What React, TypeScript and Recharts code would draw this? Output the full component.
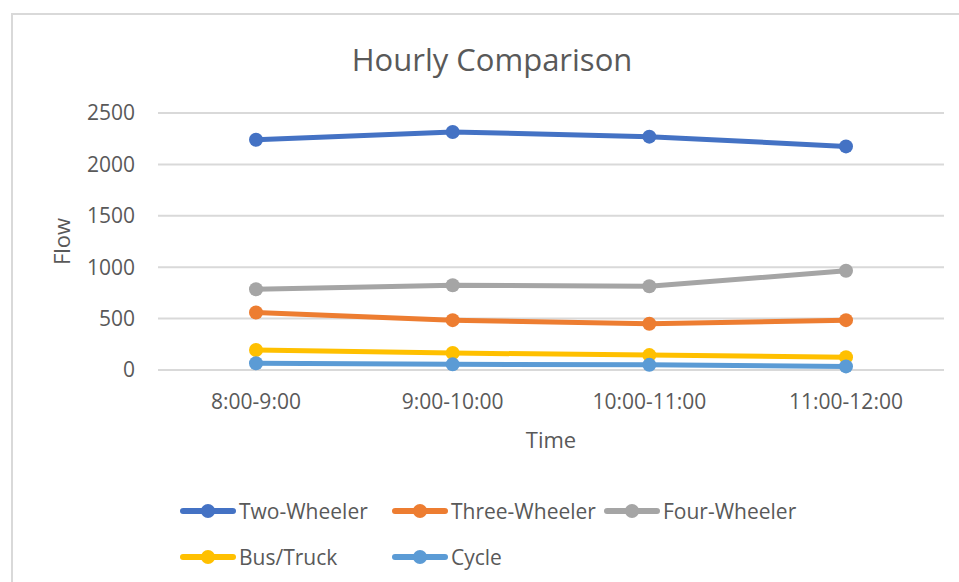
import React from "react";
import { LineChart, Line, XAxis, YAxis, CartesianGrid } from "recharts";

const TIMES = ["8:00-9:00", "9:00-10:00", "10:00-11:00", "11:00-12:00"];
const TWO_WHEELER = [2240, 2315, 2270, 2175];
const THREE_WHEELER = [560, 485, 450, 485];
const FOUR_WHEELER = [785, 825, 815, 965];
const BUS_TRUCK = [195, 165, 145, 125];
const CYCLE = [65, 55, 50, 35];
const Y_TICKS = [0, 500, 1000, 1500, 2000, 2500];

const SERIES = [
    { key: "two", name: "Two-Wheeler", values: TWO_WHEELER, color: "#4472C4" },
    { key: "three", name: "Three-Wheeler", values: THREE_WHEELER, color: "#ED7D31" },
    { key: "four", name: "Four-Wheeler", values: FOUR_WHEELER, color: "#A5A5A5" },
    { key: "bus", name: "Bus/Truck", values: BUS_TRUCK, color: "#FFC000" },
    { key: "cycle", name: "Cycle", values: CYCLE, color: "#5B9BD5" },
];

const data = TIMES.map((time, i) => {
    const row: Record<string, string | number> = { time };
    SERIES.forEach((s) => {
        row[s.key] = s.values[i];
    });
    return row;
});

const FONT = "'Open Sans', sans-serif";
const TEXT = "#595959";
const GRID = "#D9D9D9";

const App: React.FC = () => {
    return (
        <div style={{ position: "absolute", left: 0, top: 0, width: 959, height: 582, overflow: "hidden", background: "#fff", fontFamily: FONT }}>
            <div style={{ position: "absolute", left: 11, top: 13, width: 980, height: 620, border: `2px solid ${GRID}` }} />
            <div style={{ position: "absolute", left: 292, width: 400, top: 44, textAlign: "center", fontSize: 31, lineHeight: "31px", color: TEXT }}>
                Hourly Comparison
            </div>
            <div style={{ position: "absolute", left: 0, top: 0 }}>
                <LineChart width={959} height={582} data={data} margin={{ top: 113, right: 15, bottom: 132, left: 0 }}>
                    <CartesianGrid vertical={false} stroke={GRID} strokeWidth={2} />
                    <XAxis
                        dataKey="time"
                        height={80}
                        padding={{ left: 98, right: 98 }}
                        tickLine={false}
                        axisLine={false}
                        tickSize={0}
                        tickMargin={24}
                        tick={{ fill: TEXT, fontSize: 21, fontFamily: FONT }}
                        label={{ value: "Time", position: "insideBottom", offset: 2, fill: TEXT, fontSize: 22, fontFamily: FONT }}
                    />
                    <YAxis
                        width={158}
                        domain={[0, 2500]}
                        ticks={Y_TICKS}
                        tickLine={false}
                        axisLine={false}
                        tickSize={0}
                        tickMargin={23}
                        tick={{ fill: TEXT, fontSize: 21, fontFamily: FONT }}
                        label={{ value: "Flow", angle: -90, position: "insideLeft", offset: 62, fill: TEXT, fontSize: 22, fontFamily: FONT, style: { textAnchor: "middle" } }}
                    />
                    {SERIES.map((s) => (
                        <Line
                            key={s.key}
                            type="linear"
                            dataKey={s.key}
                            name={s.name}
                            stroke={s.color}
                            strokeWidth={5}
                            dot={{ r: 7, fill: s.color, stroke: s.color, strokeWidth: 0 }}
                            activeDot={false}
                            isAnimationActive={false}
                        />
                    ))}
                </LineChart>
            </div>
            <div style={{ position: "absolute", left: 180, top: 488, display: "grid", gridTemplateColumns: "212px 212px 212px", gridAutoRows: "46px" }}>
                {SERIES.map((s) => (
                    <div key={s.key} style={{ display: "flex", alignItems: "center", whiteSpace: "nowrap" }}>
                        <svg width={56} height={16} style={{ flex: "none" }}>
                            <line x1={3} y1={8} x2={53} y2={8} stroke={s.color} strokeWidth={6} strokeLinecap="round" />
                            <circle cx={28} cy={8} r={7} fill={s.color} />
                        </svg>
                        <span style={{ marginLeft: 3, fontSize: 21, color: TEXT }}>{s.name}</span>
                    </div>
                ))}
            </div>
        </div>
    );
};

export default App;
